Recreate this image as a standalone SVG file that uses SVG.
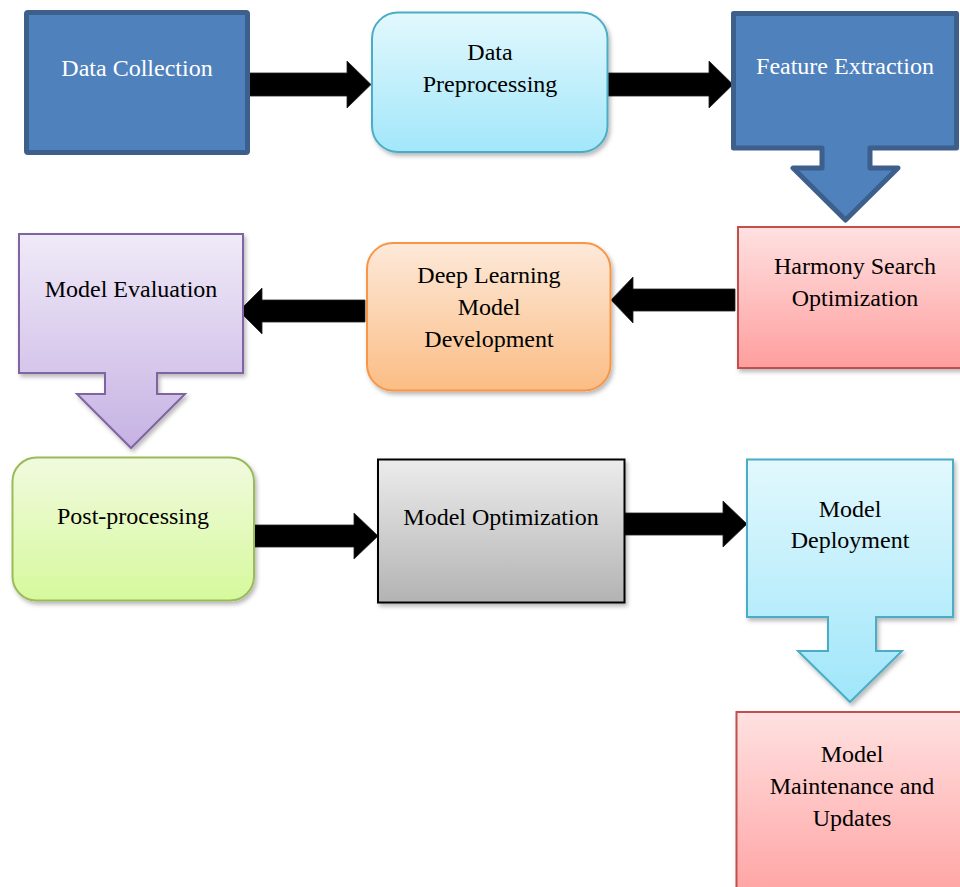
<svg xmlns="http://www.w3.org/2000/svg" width="960" height="887" viewBox="0 0 960 887">
<style>
text{font-family:"Liberation Serif","Times New Roman",serif;font-size:24px;text-anchor:middle;fill:#000}
.w{fill:#fff}
.blk{fill:#000;stroke:#222;stroke-width:0.8}
</style>
<defs>
<filter id="sh" x="-10%" y="-10%" width="130%" height="130%">
<feDropShadow dx="2" dy="3" stdDeviation="2" flood-color="#000" flood-opacity="0.28"/>
</filter>
<linearGradient id="gCyan" x1="0" y1="0" x2="0" y2="1"><stop offset="0" stop-color="#E2F8FD"/><stop offset="1" stop-color="#A2E7FA"/></linearGradient>
<linearGradient id="gRed" x1="0" y1="0" x2="0" y2="1"><stop offset="0" stop-color="#FFE1E1"/><stop offset="1" stop-color="#FF9E9E"/></linearGradient>
<linearGradient id="gOrange" x1="0" y1="0" x2="0" y2="1"><stop offset="0" stop-color="#FDE9D9"/><stop offset="1" stop-color="#FBBD85"/></linearGradient>
<linearGradient id="gPurple" gradientUnits="userSpaceOnUse" x1="0" y1="234" x2="0" y2="448"><stop offset="0" stop-color="#F0EAF8"/><stop offset="1" stop-color="#C6B2E3"/></linearGradient>
<linearGradient id="gGreen" x1="0" y1="0" x2="0" y2="1"><stop offset="0" stop-color="#F1FADF"/><stop offset="1" stop-color="#D6F99C"/></linearGradient>
<linearGradient id="gGray" x1="0" y1="0" x2="0" y2="1"><stop offset="0" stop-color="#ECECEC"/><stop offset="1" stop-color="#B3B3B3"/></linearGradient>
<linearGradient id="gDeploy" gradientUnits="userSpaceOnUse" x1="0" y1="459" x2="0" y2="702"><stop offset="0" stop-color="#E2F8FD"/><stop offset="1" stop-color="#9FE6FA"/></linearGradient>
</defs>

<g id="connectors">
<polygon class="blk" points="245,73 347,73 347,61 371,84.5 347,108 347,96 245,96"/>
<polygon class="blk" points="608,73 709,73 709,61 733,84.5 709,108 709,96 608,96"/>
<polygon class="blk" points="735,289 633,289 633,277 611,300 633,323 633,311 735,311"/>
<polygon class="blk" points="365,300 262,300 262,288 239,311 262,334 262,322 365,322"/>
<polygon class="blk" points="252,525 354,525 354,513 378,536 354,559 354,547 252,547"/>
<polygon class="blk" points="622,513 723,513 723,501 747,524 723,547 723,535 622,535"/>
</g>

<g id="data-collection">
<rect x="26.5" y="12.5" width="221" height="140" rx="1.5" fill="#4F81BD" stroke="#3C5F8C" stroke-width="5"/>
<text class="w" x="137" y="76">Data Collection</text>
</g>

<g id="data-preprocessing">
<rect x="372" y="12.5" width="235.5" height="139.5" rx="26" fill="url(#gCyan)" stroke="#4BACC6" stroke-width="2" filter="url(#sh)"/>
<text x="490" y="60">Data</text>
<text x="490" y="92">Preprocessing</text>
</g>

<g id="feature-extraction">
<path d="M733.5,13.5 H956.5 V148 H870 V168 H898 L845.5,220 L793,168 H822 V148 H733.5 Z" fill="#4F81BD" stroke="#3C5F8C" stroke-width="5" stroke-linejoin="round"/>
<text class="w" x="845" y="74">Feature Extraction</text>
</g>

<g id="harmony-search">
<rect x="738" y="227" width="240" height="141" fill="url(#gRed)" stroke="#C0504D" stroke-width="2" filter="url(#sh)"/>
<text x="855" y="274">Harmony Search</text>
<text x="855" y="306">Optimization</text>
</g>

<g id="deep-learning">
<rect x="367" y="243" width="243.5" height="147.5" rx="26" fill="url(#gOrange)" stroke="#F79646" stroke-width="2" filter="url(#sh)"/>
<text x="489" y="283">Deep Learning</text>
<text x="489" y="315">Model</text>
<text x="489" y="347">Development</text>
</g>

<g id="model-evaluation">
<path d="M19,234 H243 V373 H157 V394 H185 L131,448 L77,394 H105 V373 H19 Z" fill="url(#gPurple)" stroke="#8064A2" stroke-width="2" filter="url(#sh)"/>
<text x="131" y="297">Model Evaluation</text>
</g>

<g id="post-processing">
<rect x="12.5" y="457.5" width="241.5" height="143" rx="24" fill="url(#gGreen)" stroke="#9BBB59" stroke-width="2" filter="url(#sh)"/>
<text x="133" y="524">Post-processing</text>
</g>

<g id="model-optimization">
<rect x="378" y="459.5" width="246.5" height="143" fill="url(#gGray)" stroke="#000" stroke-width="2" filter="url(#sh)"/>
<text x="501" y="525">Model Optimization</text>
</g>

<g id="model-deployment">
<path d="M747,459.5 H953 V617 H876 V651 H902 L850,702 L798,651 H828 V617 H747 Z" fill="url(#gDeploy)" stroke="#4BACC6" stroke-width="2" filter="url(#sh)"/>
<text x="850" y="517">Model</text>
<text x="850" y="548">Deployment</text>
</g>

<g id="model-maintenance">
<rect x="736.5" y="712" width="240" height="200" fill="url(#gRed)" stroke="#C0504D" stroke-width="2" filter="url(#sh)"/>
<text x="852" y="762">Model</text>
<text x="852" y="794">Maintenance and</text>
<text x="852" y="826">Updates</text>
</g>
</svg>
